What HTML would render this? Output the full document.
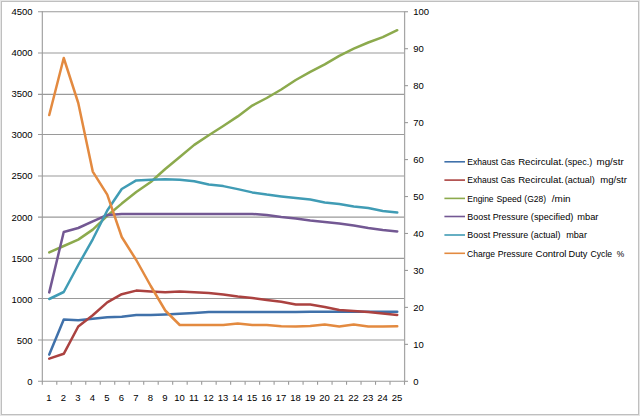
<!DOCTYPE html>
<html><head><meta charset="utf-8"><title>chart</title>
<style>
html,body{margin:0;padding:0;background:#fff;}
body{width:640px;height:416px;overflow:hidden;}
svg{display:block;}
text{font-family:"Liberation Sans",sans-serif;fill:#000;}
</style></head><body>
<svg width="640" height="416" viewBox="0 0 640 416">

<rect x="0" y="0" width="640" height="416" fill="#e5e5e5"/>
<rect x="1" y="1" width="638" height="414" fill="#bfbfbf"/>
<rect x="2" y="2" width="636" height="412" fill="#ffffff"/>
<line x1="38.0" y1="11.70" x2="404.5" y2="11.70" stroke="#9a9a9a" stroke-width="1.1"/>
<line x1="38.0" y1="52.97" x2="404.5" y2="52.97" stroke="#9a9a9a" stroke-width="1.1"/>
<line x1="38.0" y1="94.35" x2="404.5" y2="94.35" stroke="#9a9a9a" stroke-width="1.1"/>
<line x1="38.0" y1="134.45" x2="404.5" y2="134.45" stroke="#9a9a9a" stroke-width="1.1"/>
<line x1="38.0" y1="175.97" x2="404.5" y2="175.97" stroke="#9a9a9a" stroke-width="1.1"/>
<line x1="38.0" y1="217.15" x2="404.5" y2="217.15" stroke="#9a9a9a" stroke-width="1.1"/>
<line x1="38.0" y1="258.35" x2="404.5" y2="258.35" stroke="#9a9a9a" stroke-width="1.1"/>
<line x1="38.0" y1="298.50" x2="404.5" y2="298.50" stroke="#9a9a9a" stroke-width="1.1"/>
<line x1="38.0" y1="339.97" x2="404.5" y2="339.97" stroke="#9a9a9a" stroke-width="1.1"/>
<line x1="38.0" y1="381.30" x2="404.5" y2="381.30" stroke="#9a9a9a" stroke-width="1.1"/>
<line x1="42.3" y1="11.25" x2="42.3" y2="384.8" stroke="#9a9a9a" stroke-width="1.1"/>
<line x1="404.6" y1="11.25" x2="404.6" y2="381.8" stroke="#a6a6a6" stroke-width="1.25"/>
<line x1="404.5" y1="11.75" x2="408.0" y2="11.75" stroke="#9a9a9a" stroke-width="1.1"/>
<line x1="404.5" y1="48.70" x2="408.0" y2="48.70" stroke="#9a9a9a" stroke-width="1.1"/>
<line x1="404.5" y1="85.66" x2="408.0" y2="85.66" stroke="#9a9a9a" stroke-width="1.1"/>
<line x1="404.5" y1="122.62" x2="408.0" y2="122.62" stroke="#9a9a9a" stroke-width="1.1"/>
<line x1="404.5" y1="159.57" x2="408.0" y2="159.57" stroke="#9a9a9a" stroke-width="1.1"/>
<line x1="404.5" y1="196.53" x2="408.0" y2="196.53" stroke="#9a9a9a" stroke-width="1.1"/>
<line x1="404.5" y1="233.48" x2="408.0" y2="233.48" stroke="#9a9a9a" stroke-width="1.1"/>
<line x1="404.5" y1="270.44" x2="408.0" y2="270.44" stroke="#9a9a9a" stroke-width="1.1"/>
<line x1="404.5" y1="307.39" x2="408.0" y2="307.39" stroke="#9a9a9a" stroke-width="1.1"/>
<line x1="404.5" y1="344.35" x2="408.0" y2="344.35" stroke="#9a9a9a" stroke-width="1.1"/>
<line x1="404.5" y1="381.30" x2="408.0" y2="381.30" stroke="#9a9a9a" stroke-width="1.1"/>
<line x1="56.79" y1="381.3" x2="56.79" y2="384.8" stroke="#9a9a9a" stroke-width="1.1"/>
<line x1="71.28" y1="381.3" x2="71.28" y2="384.8" stroke="#9a9a9a" stroke-width="1.1"/>
<line x1="85.76" y1="381.3" x2="85.76" y2="384.8" stroke="#9a9a9a" stroke-width="1.1"/>
<line x1="100.25" y1="381.3" x2="100.25" y2="384.8" stroke="#9a9a9a" stroke-width="1.1"/>
<line x1="114.74" y1="381.3" x2="114.74" y2="384.8" stroke="#9a9a9a" stroke-width="1.1"/>
<line x1="129.23" y1="381.3" x2="129.23" y2="384.8" stroke="#9a9a9a" stroke-width="1.1"/>
<line x1="143.72" y1="381.3" x2="143.72" y2="384.8" stroke="#9a9a9a" stroke-width="1.1"/>
<line x1="158.20" y1="381.3" x2="158.20" y2="384.8" stroke="#9a9a9a" stroke-width="1.1"/>
<line x1="172.69" y1="381.3" x2="172.69" y2="384.8" stroke="#9a9a9a" stroke-width="1.1"/>
<line x1="187.18" y1="381.3" x2="187.18" y2="384.8" stroke="#9a9a9a" stroke-width="1.1"/>
<line x1="201.67" y1="381.3" x2="201.67" y2="384.8" stroke="#9a9a9a" stroke-width="1.1"/>
<line x1="216.16" y1="381.3" x2="216.16" y2="384.8" stroke="#9a9a9a" stroke-width="1.1"/>
<line x1="230.64" y1="381.3" x2="230.64" y2="384.8" stroke="#9a9a9a" stroke-width="1.1"/>
<line x1="245.13" y1="381.3" x2="245.13" y2="384.8" stroke="#9a9a9a" stroke-width="1.1"/>
<line x1="259.62" y1="381.3" x2="259.62" y2="384.8" stroke="#9a9a9a" stroke-width="1.1"/>
<line x1="274.11" y1="381.3" x2="274.11" y2="384.8" stroke="#9a9a9a" stroke-width="1.1"/>
<line x1="288.60" y1="381.3" x2="288.60" y2="384.8" stroke="#9a9a9a" stroke-width="1.1"/>
<line x1="303.08" y1="381.3" x2="303.08" y2="384.8" stroke="#9a9a9a" stroke-width="1.1"/>
<line x1="317.57" y1="381.3" x2="317.57" y2="384.8" stroke="#9a9a9a" stroke-width="1.1"/>
<line x1="332.06" y1="381.3" x2="332.06" y2="384.8" stroke="#9a9a9a" stroke-width="1.1"/>
<line x1="346.55" y1="381.3" x2="346.55" y2="384.8" stroke="#9a9a9a" stroke-width="1.1"/>
<line x1="361.04" y1="381.3" x2="361.04" y2="384.8" stroke="#9a9a9a" stroke-width="1.1"/>
<line x1="375.52" y1="381.3" x2="375.52" y2="384.8" stroke="#9a9a9a" stroke-width="1.1"/>
<line x1="390.01" y1="381.3" x2="390.01" y2="384.8" stroke="#9a9a9a" stroke-width="1.1"/>
<line x1="404.50" y1="381.3" x2="404.50" y2="384.8" stroke="#9a9a9a" stroke-width="1.1"/>
<text x="32.6" y="15.20" font-size="9.5" text-anchor="end">4500</text>
<text x="32.6" y="56.27" font-size="9.5" text-anchor="end">4000</text>
<text x="32.6" y="97.34" font-size="9.5" text-anchor="end">3500</text>
<text x="32.6" y="138.41" font-size="9.5" text-anchor="end">3000</text>
<text x="32.6" y="179.48" font-size="9.5" text-anchor="end">2500</text>
<text x="32.6" y="220.55" font-size="9.5" text-anchor="end">2000</text>
<text x="32.6" y="261.62" font-size="9.5" text-anchor="end">1500</text>
<text x="32.6" y="302.69" font-size="9.5" text-anchor="end">1000</text>
<text x="32.6" y="343.76" font-size="9.5" text-anchor="end">500</text>
<text x="32.6" y="384.83" font-size="9.5" text-anchor="end">0</text>
<text x="413.2" y="15.20" font-size="9.5">100</text>
<text x="413.2" y="52.16" font-size="9.5">90</text>
<text x="413.2" y="89.12" font-size="9.5">80</text>
<text x="413.2" y="126.08" font-size="9.5">70</text>
<text x="413.2" y="163.04" font-size="9.5">60</text>
<text x="413.2" y="200.00" font-size="9.5">50</text>
<text x="413.2" y="236.96" font-size="9.5">40</text>
<text x="413.2" y="273.92" font-size="9.5">30</text>
<text x="413.2" y="310.88" font-size="9.5">20</text>
<text x="413.2" y="347.84" font-size="9.5">10</text>
<text x="413.2" y="384.80" font-size="9.5">0</text>
<text x="48.95" y="400.9" font-size="9.5" text-anchor="middle">1</text>
<text x="63.45" y="400.9" font-size="9.5" text-anchor="middle">2</text>
<text x="77.95" y="400.9" font-size="9.5" text-anchor="middle">3</text>
<text x="92.45" y="400.9" font-size="9.5" text-anchor="middle">4</text>
<text x="106.95" y="400.9" font-size="9.5" text-anchor="middle">5</text>
<text x="121.45" y="400.9" font-size="9.5" text-anchor="middle">6</text>
<text x="135.95" y="400.9" font-size="9.5" text-anchor="middle">7</text>
<text x="150.45" y="400.9" font-size="9.5" text-anchor="middle">8</text>
<text x="164.95" y="400.9" font-size="9.5" text-anchor="middle">9</text>
<text x="179.45" y="400.9" font-size="9.5" text-anchor="middle">10</text>
<text x="193.95" y="400.9" font-size="9.5" text-anchor="middle">11</text>
<text x="208.45" y="400.9" font-size="9.5" text-anchor="middle">12</text>
<text x="222.95" y="400.9" font-size="9.5" text-anchor="middle">13</text>
<text x="237.45" y="400.9" font-size="9.5" text-anchor="middle">14</text>
<text x="251.95" y="400.9" font-size="9.5" text-anchor="middle">15</text>
<text x="266.45" y="400.9" font-size="9.5" text-anchor="middle">16</text>
<text x="280.95" y="400.9" font-size="9.5" text-anchor="middle">17</text>
<text x="295.45" y="400.9" font-size="9.5" text-anchor="middle">18</text>
<text x="309.95" y="400.9" font-size="9.5" text-anchor="middle">19</text>
<text x="324.45" y="400.9" font-size="9.5" text-anchor="middle">20</text>
<text x="338.95" y="400.9" font-size="9.5" text-anchor="middle">21</text>
<text x="353.45" y="400.9" font-size="9.5" text-anchor="middle">22</text>
<text x="367.95" y="400.9" font-size="9.5" text-anchor="middle">23</text>
<text x="382.45" y="400.9" font-size="9.5" text-anchor="middle">24</text>
<text x="396.95" y="400.9" font-size="9.5" text-anchor="middle">25</text>
<polyline points="49.25,354.60 63.75,319.50 78.25,320.30 92.75,318.70 107.25,317.30 121.75,316.70 136.25,315.00 150.75,315.00 165.25,314.50 179.75,313.70 194.25,312.90 208.75,312.10 223.25,312.00 237.75,312.00 252.25,312.00 266.75,312.00 281.25,312.00 295.75,311.90 310.25,311.80 324.75,311.80 339.25,311.80 353.75,311.80 368.25,311.80 382.75,311.80 397.25,311.80" fill="none" stroke="#4071AA" stroke-width="2.5" stroke-linejoin="round" stroke-linecap="round"/>
<polyline points="49.25,358.60 63.75,353.80 78.25,326.50 92.75,315.30 107.25,302.40 121.75,294.20 136.25,290.60 150.75,291.60 165.25,292.30 179.75,291.40 194.25,292.20 208.75,293.10 223.25,294.60 237.75,296.50 252.25,298.00 266.75,299.90 281.25,301.80 295.75,304.60 310.25,304.60 324.75,307.00 339.25,310.00 353.75,311.00 368.25,312.00 382.75,313.60 397.25,315.00" fill="none" stroke="#AB4240" stroke-width="2.5" stroke-linejoin="round" stroke-linecap="round"/>
<polyline points="49.25,252.40 63.75,246.00 78.25,239.60 92.75,229.60 107.25,215.80 121.75,203.60 136.25,192.00 150.75,182.00 165.25,169.00 179.75,157.00 194.25,144.90 208.75,135.20 223.25,126.00 237.75,116.40 252.25,105.60 266.75,98.00 281.25,89.50 295.75,80.00 310.25,71.80 324.75,64.30 339.25,55.80 353.75,48.60 368.25,42.50 382.75,37.20 397.25,30.20" fill="none" stroke="#8CAA4D" stroke-width="2.5" stroke-linejoin="round" stroke-linecap="round"/>
<polyline points="49.25,292.40 63.75,232.00 78.25,228.00 92.75,221.30 107.25,215.00 121.75,214.00 136.25,214.00 150.75,214.00 165.25,214.00 179.75,214.00 194.25,214.00 208.75,214.00 223.25,214.00 237.75,214.00 252.25,214.00 266.75,215.00 281.25,217.00 295.75,218.40 310.25,220.40 324.75,222.00 339.25,223.40 353.75,225.60 368.25,228.00 382.75,230.00 397.25,231.40" fill="none" stroke="#735893" stroke-width="2.5" stroke-linejoin="round" stroke-linecap="round"/>
<polyline points="49.25,299.00 63.75,292.00 78.25,265.00 92.75,239.30 107.25,210.50 121.75,189.00 136.25,180.40 150.75,179.80 165.25,179.20 179.75,179.80 194.25,181.20 208.75,184.50 223.25,186.10 237.75,189.10 252.25,192.40 266.75,194.60 281.25,196.40 295.75,198.00 310.25,199.60 324.75,202.40 339.25,204.00 353.75,206.40 368.25,208.00 382.75,211.00 397.25,212.60" fill="none" stroke="#409CB5" stroke-width="2.5" stroke-linejoin="round" stroke-linecap="round"/>
<polyline points="49.25,115.00 63.75,58.00 78.25,103.00 92.75,171.60 107.25,194.60 121.75,237.00 136.25,260.00 150.75,286.00 165.25,310.50 179.75,325.00 194.25,325.00 208.75,325.00 223.25,325.00 237.75,323.60 252.25,325.00 266.75,325.00 281.25,326.30 295.75,326.50 310.25,326.10 324.75,324.50 339.25,326.40 353.75,324.40 368.25,326.40 382.75,326.60 397.25,326.20" fill="none" stroke="#E38A40" stroke-width="2.5" stroke-linejoin="round" stroke-linecap="round"/>
<line x1="444.4" y1="161.80" x2="465" y2="161.80" stroke="#4071AA" stroke-width="1.6"/>
<text x="467.35" y="165.15" font-size="9.5" textLength="30.90" lengthAdjust="spacingAndGlyphs">Exhaust</text>
<text x="500.80" y="165.15" font-size="9.5" textLength="14.15" lengthAdjust="spacingAndGlyphs">Gas</text>
<text x="518.15" y="165.15" font-size="9.5" textLength="45.60" lengthAdjust="spacingAndGlyphs">Recirculat.</text>
<text x="564.75" y="165.15" font-size="9.5" textLength="27.40" lengthAdjust="spacingAndGlyphs">(spec.)</text>
<text x="596.55" y="165.15" font-size="9.5" textLength="27.10" lengthAdjust="spacingAndGlyphs">mg/str</text>
<line x1="444.4" y1="180.10" x2="465" y2="180.10" stroke="#AB4240" stroke-width="1.6"/>
<text x="467.35" y="183.45" font-size="9.5" textLength="30.90" lengthAdjust="spacingAndGlyphs">Exhaust</text>
<text x="500.80" y="183.45" font-size="9.5" textLength="14.15" lengthAdjust="spacingAndGlyphs">Gas</text>
<text x="518.15" y="183.45" font-size="9.5" textLength="45.60" lengthAdjust="spacingAndGlyphs">Recirculat.</text>
<text x="564.75" y="183.45" font-size="9.5" textLength="30.10" lengthAdjust="spacingAndGlyphs">(actual)</text>
<text x="600.35" y="183.45" font-size="9.5" textLength="26.50" lengthAdjust="spacingAndGlyphs">mg/str</text>
<line x1="444.4" y1="198.40" x2="465" y2="198.40" stroke="#8CAA4D" stroke-width="1.6"/>
<text x="467.35" y="201.75" font-size="9.5" textLength="26.20" lengthAdjust="spacingAndGlyphs">Engine</text>
<text x="496.55" y="201.75" font-size="9.5" textLength="25.15" lengthAdjust="spacingAndGlyphs">Speed</text>
<text x="524.35" y="201.75" font-size="9.5" textLength="21.70" lengthAdjust="spacingAndGlyphs">(G28)</text>
<text x="551.85" y="201.75" font-size="9.5" textLength="18.80" lengthAdjust="spacingAndGlyphs">/min</text>
<line x1="444.4" y1="216.50" x2="465" y2="216.50" stroke="#735893" stroke-width="1.6"/>
<text x="467.35" y="219.85" font-size="9.5" textLength="22.80" lengthAdjust="spacingAndGlyphs">Boost</text>
<text x="492.65" y="219.85" font-size="9.5" textLength="35.60" lengthAdjust="spacingAndGlyphs">Pressure</text>
<text x="530.80" y="219.85" font-size="9.5" textLength="42.65" lengthAdjust="spacingAndGlyphs">(specified)</text>
<text x="577.25" y="219.85" font-size="9.5" textLength="21.20" lengthAdjust="spacingAndGlyphs">mbar</text>
<line x1="444.4" y1="235.00" x2="465" y2="235.00" stroke="#409CB5" stroke-width="1.6"/>
<text x="467.35" y="238.35" font-size="9.5" textLength="22.80" lengthAdjust="spacingAndGlyphs">Boost</text>
<text x="492.65" y="238.35" font-size="9.5" textLength="35.60" lengthAdjust="spacingAndGlyphs">Pressure</text>
<text x="530.80" y="238.35" font-size="9.5" textLength="29.65" lengthAdjust="spacingAndGlyphs">(actual)</text>
<text x="566.25" y="238.35" font-size="9.5" textLength="20.70" lengthAdjust="spacingAndGlyphs">mbar</text>
<line x1="444.4" y1="253.30" x2="465" y2="253.30" stroke="#E38A40" stroke-width="1.6"/>
<text x="467.05" y="256.65" font-size="9.5" textLength="28.10" lengthAdjust="spacingAndGlyphs">Charge</text>
<text x="497.65" y="256.65" font-size="9.5" textLength="35.00" lengthAdjust="spacingAndGlyphs">Pressure</text>
<text x="535.45" y="256.65" font-size="9.5" textLength="31.00" lengthAdjust="spacingAndGlyphs">Control</text>
<text x="568.55" y="256.65" font-size="9.5" textLength="18.90" lengthAdjust="spacingAndGlyphs">Duty</text>
<text x="590.55" y="256.65" font-size="9.5" textLength="21.60" lengthAdjust="spacingAndGlyphs">Cycle</text>
<text x="616.75" y="256.65" font-size="9.5" textLength="7.45" lengthAdjust="spacingAndGlyphs">%</text>
</svg></body></html>
